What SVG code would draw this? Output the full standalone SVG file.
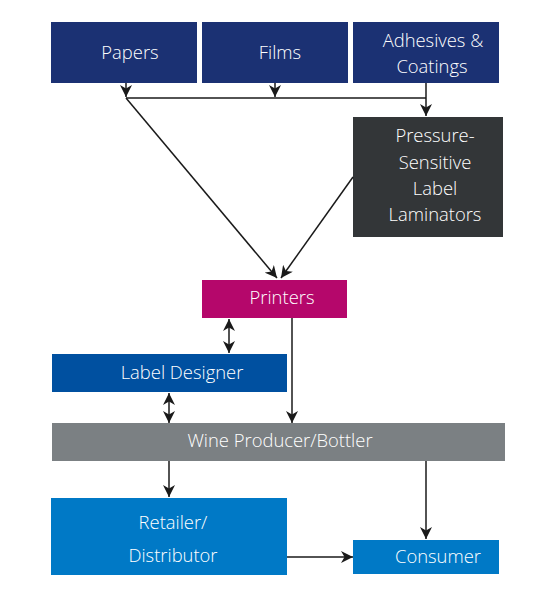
<svg xmlns="http://www.w3.org/2000/svg" width="543" height="600" viewBox="0 0 543 600">
<defs>
<style>
.lbl{font-family:"Open Sans","Liberation Sans",sans-serif;font-size:18.4px;font-weight:300;fill:#ffffff;text-anchor:middle}
.c{fill:none;stroke:#1a1a1a;stroke-width:1.5}
</style>
<marker id="ah" viewBox="0 0 12 12" refX="12" refY="6" markerWidth="12" markerHeight="12" markerUnits="userSpaceOnUse" orient="auto-start-reverse">
<path d="M0,0 L12,6 L0,12 L3.5,6 z" fill="#1a1a1a"/>
</marker>
</defs>
<rect width="543" height="600" fill="#ffffff"/>
<g id="papers"><rect x="51" y="22" width="146" height="61" fill="#1b3173"/><text class="lbl" x="130" y="59">Papers</text></g>
<g id="films"><rect x="202" y="22" width="146" height="61" fill="#1b3173"/><text class="lbl" x="280" y="59">Films</text></g>
<g id="adhesives"><rect x="353" y="22" width="146" height="61" fill="#1b3173"/><text class="lbl" x="433" y="47">Adhesives &amp;</text><text class="lbl" x="432" y="73">Coatings</text></g>
<g id="laminators"><rect x="353" y="117" width="150" height="120" fill="#333638"/><text class="lbl" x="435" y="142">Pressure-</text><text class="lbl" x="435" y="169">Sensitive</text><text class="lbl" x="435" y="195">Label</text><text class="lbl" x="435" y="221">Laminators</text></g>
<g id="printers"><rect x="202" y="280" width="145" height="38" fill="#b5076b"/><text class="lbl" x="282" y="304">Printers</text></g>
<g id="designer"><rect x="52" y="354" width="235" height="38" fill="#0050a0"/><text class="lbl" x="182" y="379">Label Designer</text></g>
<g id="wine"><rect x="52" y="423" width="453" height="38" fill="#7b8083"/><text class="lbl" x="280" y="447">Wine Producer/Bottler</text></g>
<g id="retailer"><rect x="51" y="498" width="236" height="77" fill="#0079c6"/><text class="lbl" x="173" y="529">Retailer/</text><text class="lbl" x="173" y="562">Distributor</text></g>
<g id="consumer"><rect x="353" y="540" width="146" height="34" fill="#0079c6"/><text class="lbl" x="438" y="563">Consumer</text></g>
<g id="connectors">
<path class="c" d="M126,83 V97" marker-end="url(#ah)"/>
<path class="c" d="M275,83 V97" marker-end="url(#ah)"/>
<path class="c" d="M126,98 H426"/>
<path class="c" d="M426,83 V116" marker-end="url(#ah)"/>
<path class="c" d="M126,98 L277,278" marker-end="url(#ah)"/>
<path class="c" d="M353,177 L281,278" marker-end="url(#ah)"/>
<path class="c" d="M229,319 V353" marker-start="url(#ah)" marker-end="url(#ah)"/>
<path class="c" d="M292,318 V423" marker-end="url(#ah)"/>
<path class="c" d="M169,393 V423" marker-start="url(#ah)" marker-end="url(#ah)"/>
<path class="c" d="M169,461 V497" marker-end="url(#ah)"/>
<path class="c" d="M426,461 V539" marker-end="url(#ah)"/>
<path class="c" d="M287,557 H353" marker-end="url(#ah)"/>
</g>
</svg>
